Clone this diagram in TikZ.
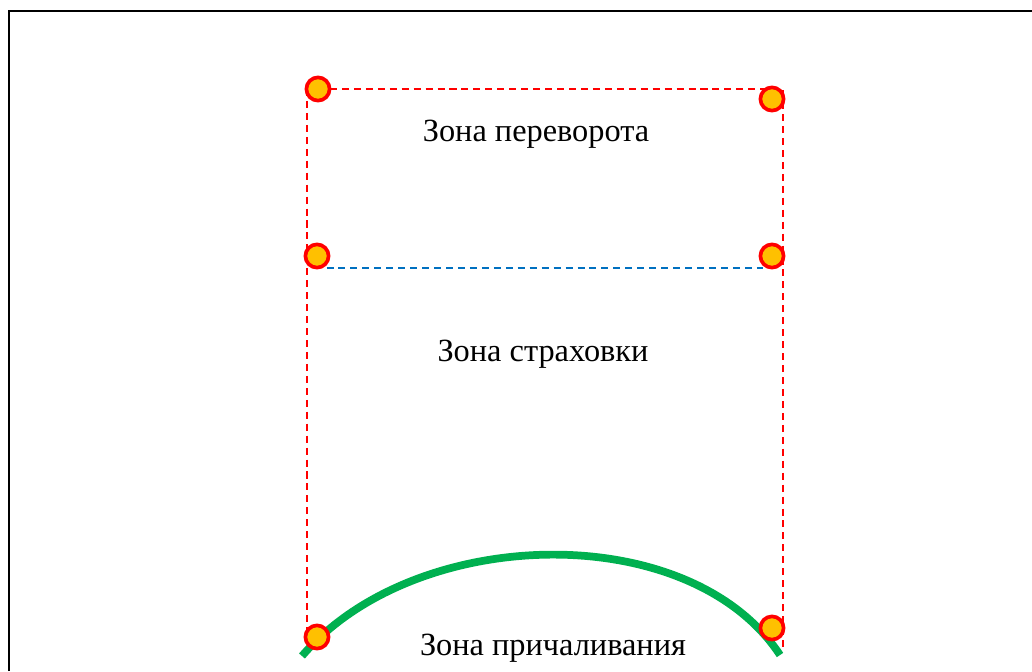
\documentclass[tikz,border=0pt]{standalone}
\usepackage{fontspec}
\setmainfont{Liberation Serif}
\definecolor{zonered}{RGB}{255,0,0}
\definecolor{zonegold}{RGB}{255,192,0}
\definecolor{zoneblue}{RGB}{0,112,192}
\definecolor{zonegreen}{RGB}{0,176,80}

\begin{document}
\begin{tikzpicture}[x=0.025cm, y=-0.025cm,
	every node/.style={font=\fontsize{23}{27}\selectfont},
	redline/.style={draw=zonered, line width=1.4pt, dash pattern=on 5pt off 3.5pt},
	blueline/.style={draw=zoneblue, line width=1.4pt, dash pattern=on 5pt off 3.5pt},
	arcline/.style={draw=zonegreen, line width=5.5pt},
	marker/.style={circle, draw=zonered, fill=zonegold, line width=2.6pt, minimum size=0.58cm, inner sep=0pt}]
	\useasboundingbox (0,0) rectangle (1032,671);
	\draw[line width=1.5pt] (9,671) -- (9,11) -- (1032,11);
	% frame of the zones
	\coordinate (cTL) at (307,89);
	\coordinate (cTR) at (783,89);
	\coordinate (cBL) at (307,640);
	\coordinate (cBR) at (783,648);
	\coordinate (cA) at (302,656);
	\coordinate (cB) at (780,655);
	\draw[redline] (318,89) -- (cTR) -- (cBR);
	\draw[redline] (cTL) -- (cBL);
	\draw[arcline] (cA) .. controls (415,524) and (690,518) .. (cB);
	% markers
	\node[marker] (pTL) at (318,89) {};
	\node[marker] (pTR) at (772,99) {};
	\node[marker] (pML) at (317,256) {};
	\node[marker] (pMR) at (772,256) {};
	\node[marker] (pBL) at (317,637) {};
	\node[marker] (pBR) at (772,628) {};
	\draw[blueline] ([yshift=-2pt]pML.south east) -- ([yshift=-2pt]pMR.south west);
	% labels
	\node (flip) at (536,134) {Зона переворота};
	\node (safe) at (543,354) {Зона страховки};
	\node (dock) at (553,648) {Зона причаливания};
\end{tikzpicture}
\end{document}
